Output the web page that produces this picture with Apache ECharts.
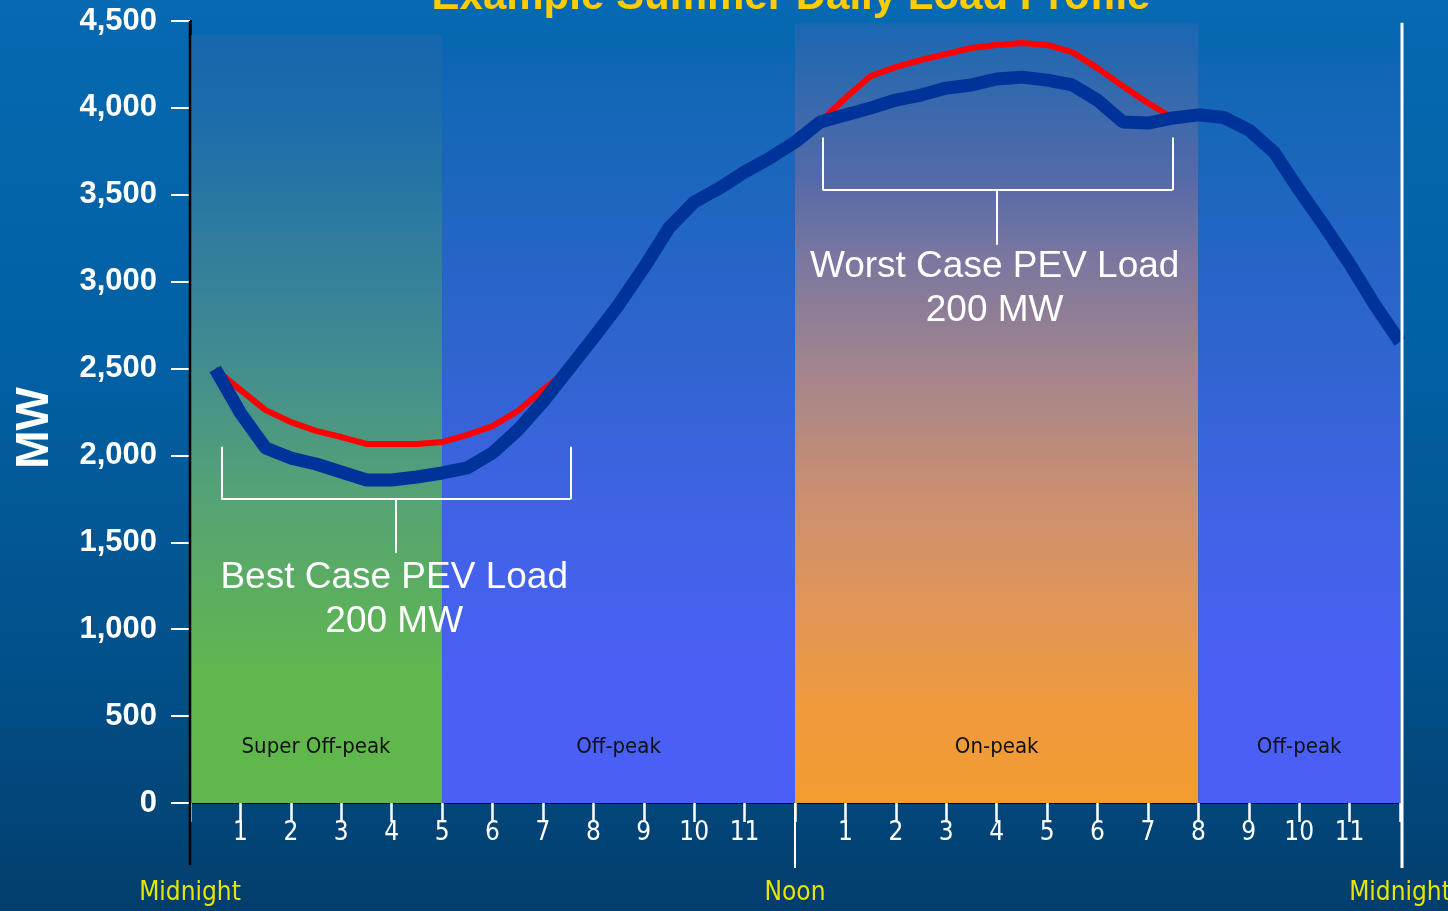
<!DOCTYPE html>
<html>
<head>
<meta charset="utf-8">
<script src="https://cdn.jsdelivr.net/npm/echarts@6/dist/echarts.min.js"></script>
<style>
  html, body { margin: 0; padding: 0; background: #034d86; }
  #chart { width: 1448px; height: 911px; }
</style>
</head>
<body>
<div id="chart"></div>
<script>
// ---------------- data ----------------
const hours = [0.5,1,1.5,2,2.5,3,3.5,4,4.5,5,5.5,6,6.5,7,7.5,8,8.5,9,9.5,10,10.5,11,11.5,12,
               12.5,13,13.5,14,14.5,15,15.5,16,16.5,17,17.5,18,18.5,19,19.5,20,20.5,21,21.5,22,22.5,23,23.5,24];
const baseLoad = [2497,2244,2043,1985,1951,1905,1859,1859,1876,1899,1928,2014,2146,2308,2492,2676,2866,3079,3309,3458,3538,3631,3711,3803,
                  3919,3959,3999,4045,4074,4114,4132,4166,4177,4160,4132,4045,3919,3913,3942,3960,3945,3873,3746,3527,3320,3102,2866,2653];
const withPevLoad = [2497,2377,2261,2192,2141,2106,2066,2066,2066,2077,2118,2169,2256,2377,2492,
                     null,null,null,null,null,null,null,null,null,
                     3919,4057,4183,4235,4276,4310,4345,4362,4373,4362,4321,4229,4126,4028,3942,
                     null,null,null,null,null,null,null,null,null];
const bandNames = ['Super Off-peak', 'Off-peak', 'On-peak', 'Off-peak'];
const bandStart = [0, 5, 12, 20];
const bandEnd = [5, 12, 20, 24];
const bandTop = [4420, 4360, 4485, 4360];
const hourTickLabels = ['', '1','2','3','4','5','6','7','8','9','10','11', '', '1','2','3','4','5','6','7','8','9','10','11', ''];
const periodTicks = [0, 12, 24];
const periodLabels = ['Midnight', 'Noon', 'Midnight'];
const yTickLabels = ['0','500','1,000','1,500','2,000','2,500','3,000','3,500','4,000','4,500'];
const titleText = 'Example Summer Daily Load Profile';
const yName = 'MW';
const bestNote = ['Best Case PEV Load', '200 MW'];
const worstNote = ['Worst Case PEV Load', '200 MW'];

// ---------------- styles ----------------
const G = echarts.graphic.LinearGradient;
const blueBand = () => new G(0,0,0,1,[{offset:0,color:'#0b65b2'},{offset:0.08,color:'#1467b7'},{offset:0.41,color:'#3064cf'},{offset:0.62,color:'#4063e5'},{offset:0.84,color:'#4a5ff5'},{offset:1,color:'#4a5ff5'}]);
const bandGradients = [
  new G(0,0,0,1,[{offset:0,color:'#1767ad'},{offset:0.09,color:'#1b6aad'},{offset:0.42,color:'#418c91'},{offset:0.6,color:'#55a375'},{offset:0.84,color:'#60b84d'},{offset:1,color:'#60b84c'}]),
  blueBand(),
  new G(0,0,0,1,[{offset:0,color:'#1a68b2'},{offset:0.2,color:'#556aa8'},{offset:0.3,color:'#7a77a0'},{offset:0.45,color:'#a5858c'},{offset:0.61,color:'#cc8f70'},{offset:0.74,color:'#e0955a'},{offset:0.87,color:'#ef9a3e'},{offset:1,color:'#f29c30'}]),
  blueBand()
];
const narrow = '"Liberation Sans Narrow", "Arial Narrow", "DejaVu Sans Condensed", sans-serif';
const sans = '"Liberation Sans", Arial, sans-serif';

const chart = echarts.init(document.getElementById('chart'), null, { renderer: 'canvas', width: 1448, height: 911 });

const bandAreas = bandNames.map((name, i) => [
  { xAxis: bandStart[i], yAxis: 0, name: name,
    itemStyle: { color: bandGradients[i], opacity: 1 },
    label: { show: true, position: 'insideBottom', distance: 45, formatter: name,
             color: '#111', fontFamily: narrow, fontSize: 22 } },
  { xAxis: bandEnd[i], yAxis: bandTop[i] }
]);

const bracket = (x1, x2, xm, yTop, yMid, yBot) => [
  [{ coord: [x1, yTop] }, { coord: [x1, yMid] }],
  [{ coord: [x1, yMid] }, { coord: [x2, yMid] }],
  [{ coord: [x2, yMid] }, { coord: [x2, yTop] }],
  [{ coord: [xm, yMid] }, { coord: [xm, yBot] }]
];

const option = {
  animation: false,
  backgroundColor: new G(0,0,0,1,[{offset:0,color:'#0669b1'},{offset:0.4,color:'#0260a3'},{offset:0.75,color:'#024f88'},{offset:1,color:'#023e6d'}]),
  grid: { left: 190, right: 48, top: 21, bottom: 108, containLabel: false, outerBoundsMode: 'none' },
  xAxis: [
    {
      type: 'value', min: 0, max: 24, interval: 1,
      axisLine: { show: true, onZero: false, lineStyle: { color: '#000', width: 2 } },
      axisTick: { show: true, length: 19, lineStyle: { color: '#fff', width: 2.5 } },
      axisLabel: { show: true, margin: 17, color: '#fff', fontFamily: narrow, fontSize: 26,
                   formatter: v => hourTickLabels[Math.round(v)] || '' },
      splitLine: { show: false }
    },
    {
      type: 'value', min: 0, max: 24, interval: 12, position: 'bottom',
      axisLine: { show: false }, axisTick: { show: false }, splitLine: { show: false },
      axisLabel: { show: true, margin: 77, color: '#e6e600', fontFamily: narrow, fontSize: 26,
                   formatter: v => { const k = periodTicks.indexOf(Math.round(v)); return k >= 0 ? periodLabels[k] : ''; } }
    }
  ],
  yAxis: {
    type: 'value', min: 0, max: 4500, interval: 500,
    axisLine: { show: true, lineStyle: { color: '#000', width: 2.5 } },
    axisTick: { show: true, length: 19, lineStyle: { color: '#fff', width: 2 } },
    axisLabel: { margin: 33, color: '#fff', fontFamily: sans, fontWeight: 'bold', fontSize: 31,
                 formatter: v => yTickLabels[Math.round(v / 500)] },
    splitLine: { show: false }
  },
  series: [
    {
      name: 'bands', type: 'line', data: [], z: 1, silent: true,
      markArea: { silent: true, data: bandAreas }
    },
    {
      name: 'With PEV', type: 'line', z: 3, xAxisIndex: 0,
      data: hours.map((h, i) => [h, withPevLoad[i]]),
      showSymbol: false, symbol: 'none', connectNulls: false, smooth: false,
      lineStyle: { color: '#ff0000', width: 6, join: 'round', cap: 'butt' }
    },
    {
      name: 'Base', type: 'line', z: 4, xAxisIndex: 0,
      data: hours.map((h, i) => [h, baseLoad[i]]),
      showSymbol: false, symbol: 'none', smooth: false,
      lineStyle: { color: '#00339a', width: 13, join: 'bevel', cap: 'butt' }
    },
    {
      name: 'notes', type: 'line', data: [], z: 5, silent: true,
      markLine: {
        silent: true, symbol: 'none', label: { show: false },
        lineStyle: { color: '#fff', width: 2, type: 'solid' },
        data: [].concat(
          bracket(0.62, 7.55, 4.09, 2050, 1748, 1440),
          bracket(12.55, 19.49, 16.01, 3830, 3527, 3212)
        )
      },
      markPoint: {
        silent: true, symbol: 'circle', symbolSize: 0,
        label: { show: true, position: 'inside', color: '#fff', fontFamily: sans, fontSize: 37, lineHeight: 44, align: 'center' },
        data: [
          { coord: [4.05, 1170], label: { formatter: bestNote.join('\n') } },
          { coord: [15.96, 2960], label: { formatter: worstNote.join('\n') } }
        ]
      }
    }
  ]
};
chart.setOption(option);

// axis decoration lines computed through the chart's scales
const px = (x, y) => chart.convertToPixel({ gridIndex: 0 }, [x, y]);
const pL0 = px(0, 0), pLt = px(0, 4500), pN = px(12, 0), pR0 = px(24, 0), pRt = px(24, 4490);
chart.setOption({
  graphic: [
    { type: 'line', z: 50, shape: { x1: pL0[0], y1: pLt[1], x2: pL0[0], y2: pL0[1] + 62 }, style: { stroke: '#000', lineWidth: 2.5 } },
    { type: 'line', z: 50, shape: { x1: pN[0], y1: pN[1], x2: pN[0], y2: pN[1] + 65 }, style: { stroke: '#fff', lineWidth: 2 } },
    { type: 'line', z: 50, shape: { x1: pR0[0] + 2, y1: pRt[1], x2: pR0[0] + 2, y2: pR0[1] + 65 }, style: { stroke: '#fff', lineWidth: 3 } },
    { type: 'text', z: 50, x: 791, y: -2.5, style: { text: titleText, fill: '#ffcc00', font: 'bold 42px "Liberation Sans", Arial, sans-serif', align: 'center', verticalAlign: 'middle' } },
    { type: 'text', z: 50, x: 35, y: 428, rotation: Math.PI / 2, style: { text: yName, fill: '#fff', font: 'bold 46px "Liberation Sans", Arial, sans-serif', align: 'center', verticalAlign: 'middle' } }
  ]
});
</script>
</body>
</html>
